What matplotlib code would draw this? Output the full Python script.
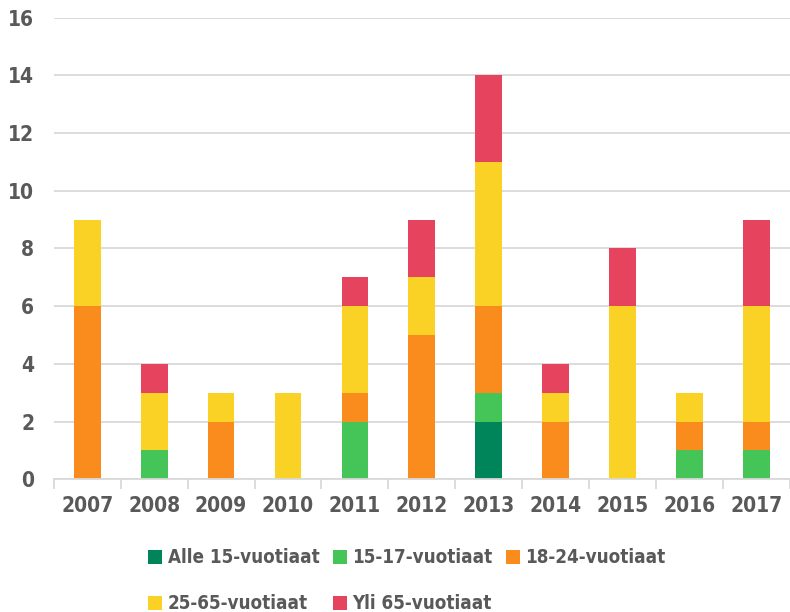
import numpy as np
import matplotlib.pyplot as plt
from matplotlib.ticker import FixedLocator

years = ["2007", "2008", "2009", "2010", "2011", "2012", "2013", "2014", "2015", "2016", "2017"]
alle15 = [0, 0, 0, 0, 0, 0, 2, 0, 0, 0, 0]
v15_17 = [0, 1, 0, 0, 2, 0, 1, 0, 0, 1, 1]
v18_24 = [6, 0, 2, 0, 1, 5, 3, 2, 0, 1, 1]
v25_65 = [3, 2, 1, 3, 3, 2, 5, 1, 6, 1, 4]
yli65 = [0, 1, 0, 0, 1, 2, 3, 1, 2, 0, 3]

labels = ["Alle 15-vuotiaat", "15-17-vuotiaat", "18-24-vuotiaat", "25-65-vuotiaat", "Yli 65-vuotiaat"]
colors = ["#00845A", "#45C457", "#FA8C1E", "#FAD226", "#E6435F"]
series = [alle15, v15_17, v18_24, v25_65, yli65]

plt.rcParams['font.family'] = ['DejaVu Sans']
plt.rcParams['font.stretch'] = 'condensed'
plt.rcParams['font.weight'] = 'bold'
text_color = "#595959"
grid_color = "#D9D9D9"

fig = plt.figure(figsize=(7.9, 6.12), dpi=100)
ax = fig.add_axes([0.068, 0.217, 0.932, 0.754])

x = np.arange(len(years))
bottom = np.zeros(len(years))
bars = []
for vals, lab, col in zip(series, labels, colors):
    b = ax.bar(x, vals, 0.4, bottom=bottom, color=col, label=lab, zorder=3)
    bars.append(b)
    bottom += np.array(vals)

ax.set_xlim(-0.5, len(years) - 0.5)
ax.set_ylim(0, 16)
ax.set_yticks(range(0, 17, 2))
ax.set_xticks(x)
ax.set_xticklabels(years)
ax.xaxis.set_minor_locator(FixedLocator(np.arange(-0.5, len(years), 1)))

ax.grid(axis='y', color=grid_color, linewidth=1.3, zorder=0)
for s in ['top', 'right', 'left']:
    ax.spines[s].set_visible(False)
ax.spines['bottom'].set_color(grid_color)
ax.spines['bottom'].set_linewidth(1.3)
ax.spines['bottom'].set_zorder(4)

ax.tick_params(axis='x', which='major', length=0, pad=12, labelsize=15, labelcolor=text_color)
ax.tick_params(axis='x', which='minor', length=7, width=1.3, color=grid_color)
ax.tick_params(axis='y', length=0, pad=14, labelsize=15, labelcolor=text_color)

order = [0, 3, 1, 4, 2]
h = [bars[i] for i in order]
l = [labels[i] for i in order]
leg = fig.legend(h, l, loc='lower center', bbox_to_anchor=(0.515, -0.03), ncol=3,
                 frameon=False, fontsize=13.5, handlelength=0.75, handleheight=0.75,
                 handletextpad=0.3, columnspacing=0.7, labelspacing=1.45)
for t in leg.get_texts():
    t.set_color(text_color)

fig.savefig("out.png", dpi=100)
